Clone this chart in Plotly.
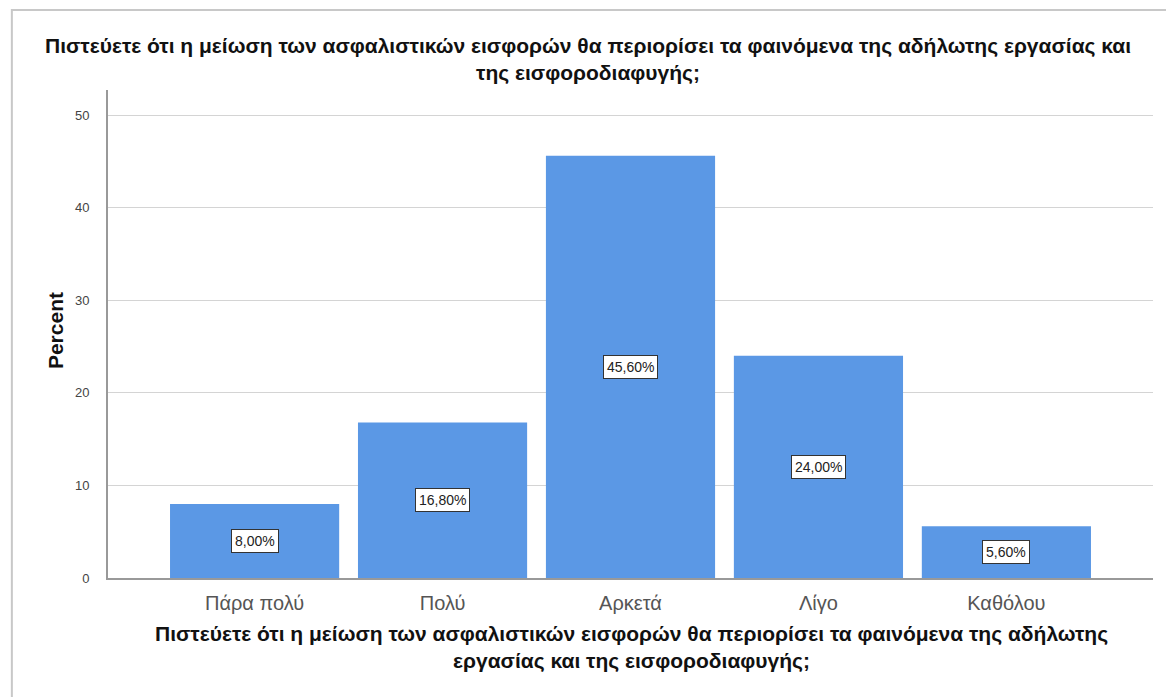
import plotly.graph_objects as go

categories = ["Πάρα πολύ", "Πολύ", "Αρκετά", "Λίγο", "Καθόλου"]
percent = [8.0, 16.8, 45.6, 24.0, 5.6]
y_ticks = [0, 10, 20, 30, 40, 50]

title_text = ("Πιστεύετε ότι η μείωση των ασφαλιστικών εισφορών θα περιορίσει "
              "τα φαινόμενα της αδήλωτης εργασίας και<br>της εισφοροδιαφυγής;")
xtitle_text = ("Πιστεύετε ότι η μείωση των ασφαλιστικών εισφορών θα περιορίσει "
               "τα φαινόμενα της αδήλωτης<br>εργασίας και της εισφοροδιαφυγής;")

font = "Liberation Sans, Arial, sans-serif"

fig = go.Figure()
fig.add_trace(go.Bar(
    x=list(range(len(categories))),
    y=percent,
    marker=dict(color="#5B98E5", line=dict(width=0)),
    width=0.9,
    hoverinfo="skip",
))

# value labels in white boxes, centred in each bar
for i, v in enumerate(percent):
    fig.add_annotation(
        x=i, y=v / 2, text=f"{v:.2f}%".replace(".", ","),
        showarrow=False, font=dict(family=font, size=14, color="#222"),
        bgcolor="white", bordercolor="#333", borderwidth=1, borderpad=3,
    )

# chart title and x-axis title
fig.add_annotation(text="<b>" + title_text + "</b>", xref="paper", yref="paper",
                   x=0.459, y=1.0615, xanchor="center", yanchor="middle",
                   showarrow=False,
                   font=dict(family=font, size=21, color="#111"))
fig.add_annotation(text="<b>" + xtitle_text + "</b>", xref="paper", yref="paper",
                   x=0.501, y=-0.1434, xanchor="center", yanchor="middle",
                   showarrow=False,
                   font=dict(family=font, size=21, color="#111"))

fig.add_annotation(text="<b>Percent</b>", xref="paper", yref="paper",
                   x=-0.0507, y=0.506, textangle=-90, showarrow=False,
                   xanchor="center", yanchor="middle",
                   font=dict(family=font, size=21, color="#111"))

# outer frame like the SPSS chart window
fig.add_shape(type="rect", xref="paper", yref="paper",
              x0=-0.092, x1=1.016, y0=-0.26, y1=1.164,
              line=dict(color="#c8c8c8", width=2), layer="below")

fig.update_layout(
    width=1174, height=697,
    margin=dict(l=100, r=29, t=82, b=127, autoexpand=False),
    paper_bgcolor="white", plot_bgcolor="white",
    font=dict(family=font, color="#222"),
    showlegend=False,
    xaxis=dict(
        tickmode="array", tickvals=list(range(len(categories))),
        ticktext=categories, range=[-0.78, 4.78],
        showline=True, linecolor="#999999", linewidth=2,
        showgrid=False, ticks="", zeroline=False,
        ticklabelstandoff=6, automargin=False,
        tickfont=dict(family=font, size=20, color="#555"),
    ),
    yaxis=dict(
        range=[0, 52.7], tickvals=y_ticks,
        showline=True, linecolor="#999999", linewidth=2,
        showgrid=True, gridcolor="#d4d4d4", gridwidth=1,
        zeroline=False, ticks="", automargin=False,
        ticklabelstandoff=14,
        tickfont=dict(family=font, size=13, color="#444"),
    ),
)

fig.write_html("out.html")
